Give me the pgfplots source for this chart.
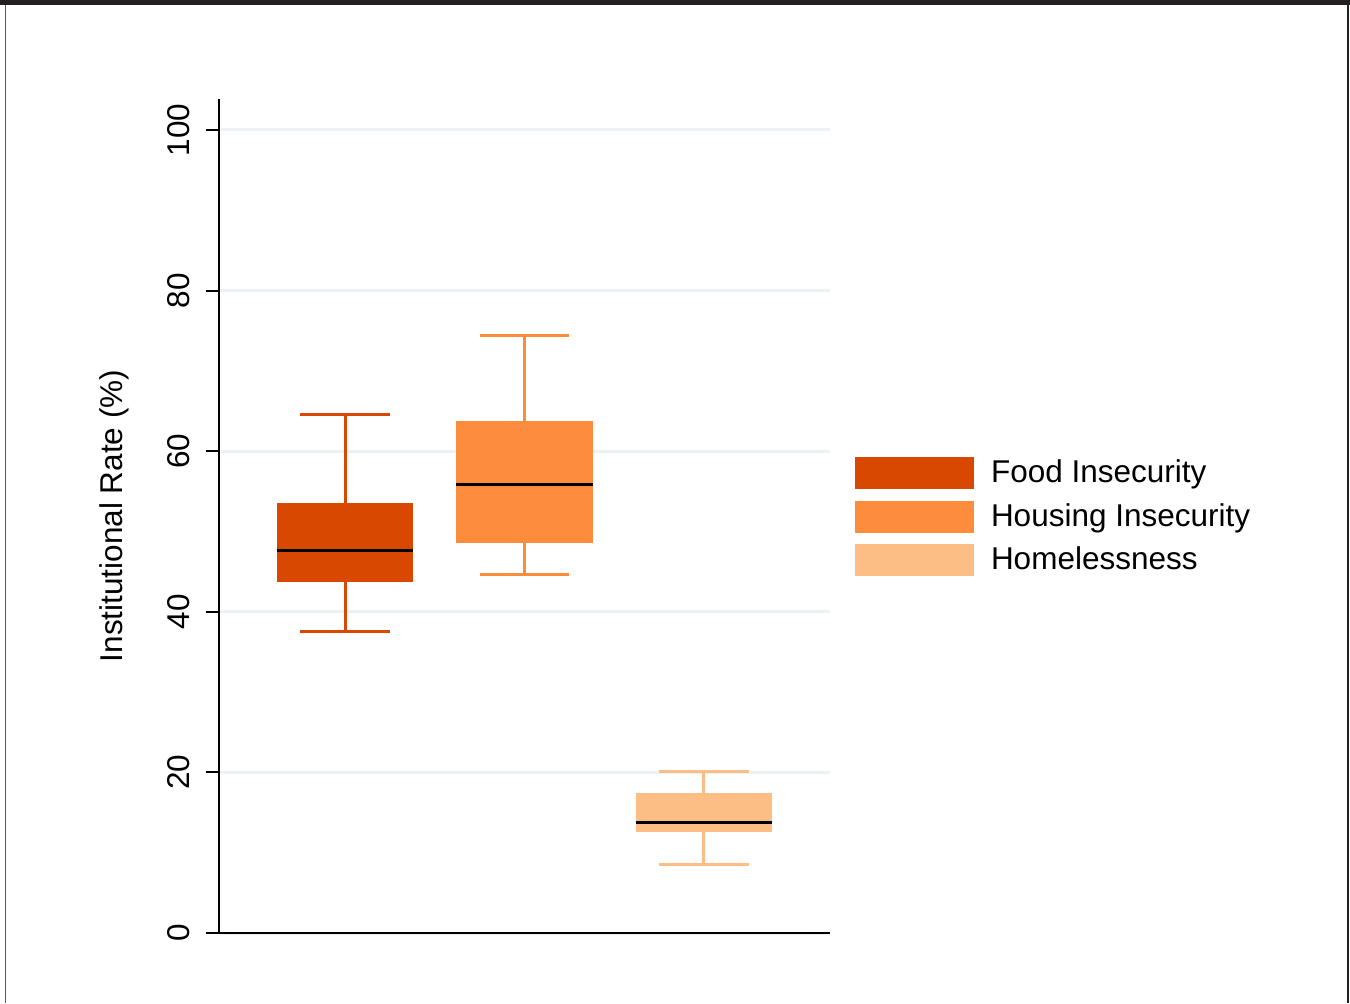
\documentclass[border=0pt]{standalone}
\usepackage{pgfplots}
\pgfplotsset{compat=1.18}
\usepackage{fontspec}
\setmainfont{Liberation Sans}

\definecolor{cfood}{HTML}{D94801}
\definecolor{chouse}{HTML}{FD8D3C}
\definecolor{chome}{HTML}{FDBE85}
\definecolor{gridc}{HTML}{EAF2F3}
\definecolor{bandc}{HTML}{231F20}

% box = quartiles, whiskers from box edges, median line
\pgfplotsset{
	whisk/.style={#1, line width=1.2pt, forget plot, unbounded coords=jump},
	med/.style={black, line width=1.2pt, forget plot},
}

\begin{document}
\begin{tikzpicture}
\useasboundingbox (-87.6pt,-28pt) rectangle (452.4pt,373.2pt);
% frame of the source page
\fill[bandc] (-87.6pt,371pt) rectangle (452.4pt,373.2pt);
\draw[gray!70!black, line width=0.4pt] (-85.2pt,-28pt) -- (-85.2pt,371pt);
\draw[bandc, line width=0.6pt] (451.6pt,-28pt) -- (451.6pt,371pt);

\begin{axis}[
	at={(0pt,0pt)}, anchor=origin,
	scale only axis,
	width=244.4pt, height=333.6pt,
	xmin=0.298, xmax=3.702,
	ymin=0, ymax=103.86,
	axis lines*=left,
	axis line style={line width=0.8pt, black},
	xtick=\empty,
	ytick={0,20,40,60,80,100},
	tick align=outside,
	major tick length=5.2pt,
	tick style={line width=0.8pt, black},
	ymajorgrids,
	major grid style={gridc, line width=1.2pt},
	font=\fontsize{12.6pt}{15pt}\selectfont,
	/pgf/number format/assume math mode=true,
	yticklabel style={rotate=90, anchor=south, inner sep=0pt},
	yticklabel shift=6.4pt,
	ylabel={Institutional Rate (\%)},
	ylabel style={at={(axis description cs:-0.1465,0.5)}, anchor=south, inner sep=0pt},
	legend style={at={(rel axis cs:1,0.5)}, anchor=west, xshift=9.6pt, yshift=-0.3pt,
		draw=none, fill=none, inner sep=0pt, row sep=4.6pt, column sep=7pt,
		nodes={inner sep=0pt}},
	legend cell align=left,
]

% Food Insecurity: whiskers 37.5 / 64.6, quartiles 43.7 / 53.55, median 47.6
\addplot[whisk=cfood] coordinates {(0.75,37.5) (1.25,37.5) (nan,nan) (1,37.5) (1,43.7)
	(nan,nan) (1,53.55) (1,64.6) (nan,nan) (0.75,64.6) (1.25,64.6)};
% Housing Insecurity: whiskers 44.6 / 74.35, quartiles 48.6 / 63.75, median 55.8
\addplot[whisk=chouse] coordinates {(1.75,44.6) (2.25,44.6) (nan,nan) (2,44.6) (2,48.6)
	(nan,nan) (2,63.75) (2,74.35) (nan,nan) (1.75,74.35) (2.25,74.35)};
% Homelessness: whiskers 8.5 / 20.05, quartiles 12.6 / 17.45, median 13.7
\addplot[whisk=chome] coordinates {(2.75,8.5) (3.25,8.5) (nan,nan) (3,8.5) (3,12.6)
	(nan,nan) (3,17.45) (3,20.05) (nan,nan) (2.75,20.05) (3.25,20.05)};

\addplot[fill=cfood, draw=none,
	legend image code/.code={\fill[cfood] (0pt,-6.4pt) rectangle (47.6pt,6.4pt);}]
	coordinates {(0.621,43.7) (1.379,43.7) (1.379,53.55) (0.621,53.55)};
\addlegendentry{Food Insecurity}
\addplot[fill=chouse, draw=none,
	legend image code/.code={\fill[chouse] (0pt,-6.4pt) rectangle (47.6pt,6.4pt);}]
	coordinates {(1.621,48.6) (2.379,48.6) (2.379,63.75) (1.621,63.75)};
\addlegendentry{Housing Insecurity}
\addplot[fill=chome, draw=none,
	legend image code/.code={\fill[chome] (0pt,-6.4pt) rectangle (47.6pt,6.4pt);}]
	coordinates {(2.621,12.6) (3.379,12.6) (3.379,17.45) (2.621,17.45)};
\addlegendentry{Homelessness}

% medians
\addplot[med] coordinates {(0.621,47.6) (1.379,47.6)};
\addplot[med] coordinates {(1.621,55.8) (2.379,55.8)};
\addplot[med] coordinates {(2.621,13.7) (3.379,13.7)};

\end{axis}
\end{tikzpicture}
\end{document}
